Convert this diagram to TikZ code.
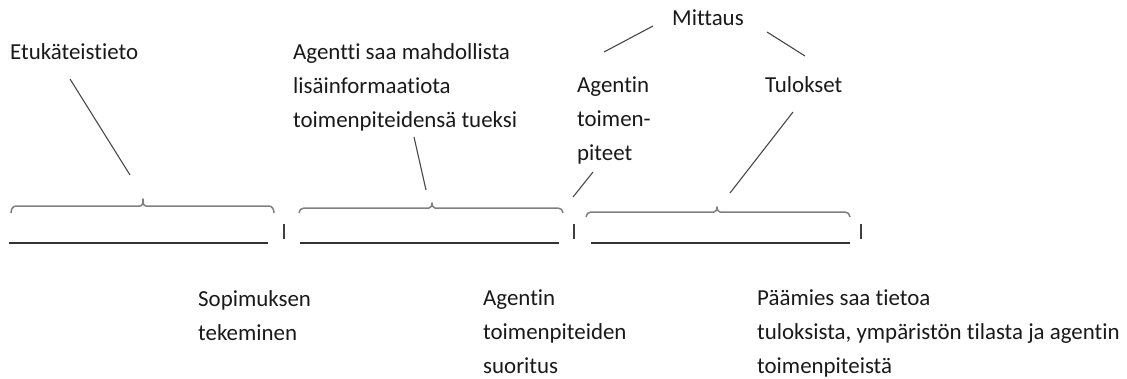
\documentclass[tikz,border=0pt]{standalone}
\usepackage{fontspec}
\setmainfont{Carlito}[Ligatures=NoCommon]
\begin{document}
\begin{tikzpicture}[x=1pt,y=-1pt,
  lbl/.style={anchor=base west,inner sep=0pt,align=left,text=black!90,
    font=\fontsize{22.9}{34}\selectfont},
  pointer/.style={draw=black!72,line width=1.1pt},
  phase/.style={draw=black!50,line width=1.5pt,line join=round},
  baseline/.style={draw=black!80,line width=1.6pt},
  tick/.style={draw=black!75,line width=1.6pt}]
\useasboundingbox (0,0) rectangle (1127,378);

% labels above the time line (anchored at the baseline of their last line)
\node[lbl] (prior) at (10,59) {Etukäteistieto};
\node[lbl] (info) at (293,127) {Agentti saa mahdollista\\lisäinformaatiota\\toimenpiteidensä tueksi};
\node[lbl] (meas) at (672,25) {Mittaus};
\node[lbl] (acts) at (577,160) {Agentin\\toimen-\\piteet};
\node[lbl] (res) at (765,92) {Tulokset};

% labels below the time line
\node[lbl] (contract) at (198,340) {Sopimuksen\\tekeminen};
\node[lbl] (perform) at (483,373) {Agentin\\toimenpiteiden\\suoritus};
\node[lbl] (inform) at (757,373) {Päämies saa tietoa\\tuloksista, ympäristön tilasta ja agentin\\toimenpiteistä};

% three phases: bracket over a segment of the time line
\draw[phase] (11,213) to[out=90,in=180] (16,206) -- (140,206) to[out=0,in=-90] (143,199)
  to[out=-90,in=180] (146,206) -- (269,206) to[out=0,in=90] (274,213);
\draw[phase] (299,213) to[out=90,in=180] (304,208) -- (429,208) to[out=0,in=-90] (432,203)
  to[out=-90,in=180] (435,208) -- (558,208) to[out=0,in=90] (563,213);
\draw[phase] (586,217) to[out=90,in=180] (591,212) -- (714,212) to[out=0,in=-90] (717,207)
  to[out=-90,in=180] (720,212) -- (845,212) to[out=0,in=90] (850,217);

\draw[baseline] (9,243) -- (268,243);
\draw[baseline] (300,243) -- (559,243);
\draw[baseline] (591,243) -- (850,243);

\draw[tick] (284,224) -- (284,239);
\draw[tick] (574,224) -- (574,239);
\draw[tick] (861,224) -- (861,239);

% pointers from labels to the phases
\coordinate (p1a) at (70,79);   \coordinate (p1b) at (130,175);
\coordinate (p2a) at (414,137); \coordinate (p2b) at (426,190);
\coordinate (p3a) at (593,172); \coordinate (p3b) at (573,197);
\coordinate (p4a) at (793,112); \coordinate (p4b) at (730,193);
\coordinate (m1a) at (653,26);  \coordinate (m1b) at (604,52);
\coordinate (m2a) at (767,32);  \coordinate (m2b) at (805,56);
\draw[pointer] (p1a) -- (p1b);
\draw[pointer] (p2a) -- (p2b);
\draw[pointer] (p3a) -- (p3b);
\draw[pointer] (p4a) -- (p4b);
\draw[pointer] (m1a) -- (m1b);
\draw[pointer] (m2a) -- (m2b);
\end{tikzpicture}
\end{document}
